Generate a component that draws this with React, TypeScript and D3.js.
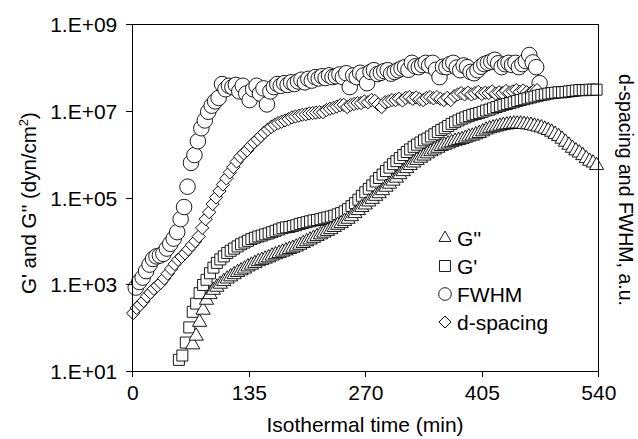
import React, { useEffect, useRef } from "react";
import * as d3 from "d3";

// [time (min), log10 of value]
const gDoublePrime = [
  [70, 1.6], [74, 1.8], [78, 2.12], [82, 2.4], [86, 2.63], [90, 2.76], [94, 2.86], [98, 2.93],
  [102, 3.0], [106, 3.06], [110, 3.12], [114, 3.17], [118, 3.22], [122, 3.27], [126, 3.31], [130, 3.35],
  [134, 3.4], [138, 3.44], [142, 3.48], [146, 3.52], [150, 3.55], [154, 3.58], [158, 3.61], [162, 3.65],
  [166, 3.68], [170, 3.71], [174, 3.74], [178, 3.77], [182, 3.8], [186, 3.83], [190, 3.86], [194, 3.9],
  [198, 3.94], [202, 3.98], [206, 4.02], [210, 4.06], [214, 4.1], [218, 4.14], [222, 4.18], [226, 4.22],
  [230, 4.26], [234, 4.31], [238, 4.36], [242, 4.4], [246, 4.45], [250, 4.5], [254, 4.56], [258, 4.63],
  [262, 4.7], [266, 4.77], [270, 4.83], [274, 4.9], [278, 4.96], [282, 5.03], [286, 5.09], [290, 5.16],
  [294, 5.24], [298, 5.31], [302, 5.38], [306, 5.45], [310, 5.53], [314, 5.6], [318, 5.67], [322, 5.74],
  [326, 5.8], [330, 5.86], [334, 5.91], [338, 5.96], [342, 6.01], [346, 6.06], [350, 6.1], [354, 6.14],
  [358, 6.18], [362, 6.21], [366, 6.24], [370, 6.27], [374, 6.3], [378, 6.32], [382, 6.34], [386, 6.37],
  [390, 6.4], [394, 6.42], [398, 6.45], [402, 6.48], [406, 6.52], [410, 6.56], [414, 6.59], [418, 6.61],
  [422, 6.63], [426, 6.65], [430, 6.67], [434, 6.68], [438, 6.69], [442, 6.7], [446, 6.7], [450, 6.7],
  [454, 6.69], [458, 6.68], [462, 6.67], [466, 6.65], [470, 6.63], [474, 6.61], [478, 6.58], [482, 6.55],
  [486, 6.51], [490, 6.46], [494, 6.41], [498, 6.35], [502, 6.28], [506, 6.21], [510, 6.14], [514, 6.08],
  [518, 6.03], [522, 5.97], [526, 5.9], [530, 5.84], [534, 5.8], [538, 5.74],
];

const gPrime = [
  [54, 1.25], [58, 1.35], [62, 1.65], [66, 2.0], [70, 2.36], [74, 2.55], [78, 2.79], [82, 2.98],
  [86, 3.1], [90, 3.25], [94, 3.38], [98, 3.49], [102, 3.57], [106, 3.64], [110, 3.72], [114, 3.77],
  [118, 3.82], [122, 3.87], [126, 3.92], [130, 3.96], [134, 4.0], [138, 4.04], [142, 4.07], [146, 4.1],
  [150, 4.12], [154, 4.15], [158, 4.17], [162, 4.2], [166, 4.23], [170, 4.26], [174, 4.29], [178, 4.31],
  [182, 4.32], [186, 4.34], [190, 4.36], [194, 4.39], [198, 4.41], [202, 4.43], [206, 4.45], [210, 4.47],
  [214, 4.48], [218, 4.5], [222, 4.52], [226, 4.54], [230, 4.56], [234, 4.58], [238, 4.61], [242, 4.64],
  [246, 4.68], [250, 4.73], [254, 4.8], [258, 4.87], [262, 4.95], [266, 5.04], [270, 5.12], [274, 5.2],
  [278, 5.28], [282, 5.37], [286, 5.45], [290, 5.53], [294, 5.61], [298, 5.69], [302, 5.77], [306, 5.84],
  [310, 5.91], [314, 5.98], [318, 6.05], [322, 6.11], [326, 6.17], [330, 6.22], [334, 6.27], [338, 6.32],
  [342, 6.36], [346, 6.41], [350, 6.46], [354, 6.51], [358, 6.56], [362, 6.6], [366, 6.65], [370, 6.7],
  [374, 6.74], [378, 6.78], [382, 6.82], [386, 6.85], [390, 6.88], [394, 6.91], [398, 6.93], [402, 6.95],
  [406, 6.98], [410, 7.01], [414, 7.03], [418, 7.06], [422, 7.09], [426, 7.11], [430, 7.14], [434, 7.16],
  [438, 7.18], [442, 7.2], [446, 7.23], [450, 7.25], [454, 7.27], [458, 7.29], [462, 7.31], [466, 7.33],
  [470, 7.35], [474, 7.37], [478, 7.38], [482, 7.4], [486, 7.41], [490, 7.42], [494, 7.43], [498, 7.43],
  [502, 7.44], [506, 7.45], [510, 7.46], [514, 7.47], [518, 7.48], [522, 7.48], [526, 7.48], [530, 7.49],
  [534, 7.49], [538, 7.49],
];

const fwhm = [
  [4, 2.92], [8, 3.05], [12, 3.15], [16, 3.3], [20, 3.45], [24, 3.58], [28, 3.64], [32, 3.66],
  [36, 3.7], [40, 3.82], [44, 3.93], [48, 4.05], [52, 4.2], [56, 4.5], [60, 4.78], [64, 5.25],
  [68, 5.8], [72, 5.98], [76, 6.3], [80, 6.6], [84, 6.78], [88, 6.98], [92, 7.12], [96, 7.22],
  [100, 7.3], [104, 7.62], [108, 7.5], [112, 7.58], [116, 7.55], [120, 7.6], [124, 7.45], [128, 7.58],
  [132, 7.4], [136, 7.25], [140, 7.5], [144, 7.58], [148, 7.4], [152, 7.52], [156, 7.15], [160, 7.45],
  [164, 7.55], [168, 7.62], [172, 7.58], [176, 7.64], [180, 7.6], [184, 7.66], [188, 7.62], [192, 7.68],
  [196, 7.72], [200, 7.66], [204, 7.74], [208, 7.7], [212, 7.78], [216, 7.75], [220, 7.8], [224, 7.76],
  [228, 7.82], [232, 7.78], [236, 7.8], [240, 7.84], [244, 7.78], [248, 7.87], [252, 7.55], [256, 7.82],
  [260, 7.78], [264, 7.88], [268, 7.82], [272, 7.64], [276, 7.9], [280, 7.94], [284, 7.85], [288, 7.88],
  [292, 7.92], [296, 7.94], [300, 7.86], [304, 7.9], [308, 7.94], [312, 7.98], [316, 8.01], [320, 7.95],
  [324, 8.11], [328, 8.03], [332, 8.01], [336, 8.06], [340, 8.11], [344, 8.05], [348, 8.11], [352, 7.95],
  [356, 7.78], [360, 8.02], [364, 8.01], [368, 8.08], [372, 8.11], [376, 8.0], [380, 7.94], [384, 8.05],
  [388, 8.01], [392, 7.9], [396, 7.87], [400, 7.94], [404, 8.02], [408, 8.08], [412, 8.11], [416, 8.14],
  [420, 8.18], [424, 8.1], [428, 8.01], [432, 8.08], [436, 8.11], [440, 8.06], [444, 8.11], [448, 8.01],
  [452, 8.08], [456, 8.15], [460, 8.29], [464, 8.12], [468, 8.01], [472, 7.64],
];

const dSpacing = [
  [1, 2.33], [5, 2.45], [9, 2.52], [13, 2.61], [17, 2.72], [21, 2.8], [25, 2.89], [29, 2.96],
  [33, 3.03], [37, 3.13], [41, 3.24], [45, 3.35], [49, 3.46], [53, 3.56], [57, 3.63], [61, 3.71],
  [65, 3.8], [69, 3.9], [73, 3.99], [77, 4.1], [81, 4.3], [85, 4.5], [89, 4.66], [93, 4.85],
  [97, 5.0], [101, 5.15], [105, 5.3], [109, 5.44], [113, 5.58], [117, 5.7], [121, 5.83], [125, 5.94],
  [129, 6.02], [133, 6.09], [137, 6.19], [141, 6.27], [145, 6.34], [149, 6.42], [153, 6.5], [157, 6.57],
  [161, 6.63], [165, 6.68], [169, 6.72], [173, 6.75], [177, 6.78], [181, 6.81], [185, 6.85], [189, 6.87],
  [193, 6.89], [197, 6.91], [201, 6.92], [205, 6.94], [209, 6.95], [213, 6.96], [217, 6.97], [221, 6.97],
  [225, 7.02], [229, 7.05], [233, 7.07], [237, 7.1], [241, 7.13], [245, 7.14], [249, 7.09], [253, 7.14],
  [257, 7.16], [261, 7.18], [265, 7.18], [269, 7.22], [273, 7.2], [277, 7.25], [281, 7.23], [285, 7.15],
  [289, 7.09], [293, 7.2], [297, 7.22], [301, 7.25], [305, 7.25], [309, 7.28], [313, 7.24], [317, 7.3],
  [321, 7.32], [325, 7.28], [329, 7.31], [333, 7.27], [337, 7.25], [341, 7.3], [345, 7.32], [349, 7.29],
  [353, 7.32], [357, 7.28], [361, 7.25], [365, 7.3], [369, 7.25], [373, 7.34], [377, 7.38], [381, 7.41],
  [385, 7.38], [389, 7.42], [393, 7.38], [397, 7.41], [401, 7.44], [405, 7.39], [409, 7.42], [413, 7.41],
  [417, 7.45], [421, 7.4], [425, 7.43], [429, 7.41], [433, 7.46], [437, 7.42], [441, 7.45], [445, 7.48],
  [449, 7.44], [453, 7.47], [457, 7.43], [461, 7.41], [465, 7.46], [469, 7.48],
];

const xTicks = [0, 135, 270, 405, 540];
const yTicks = [1e1, 1e3, 1e5, 1e7, 1e9];
const legendLabels = ["G''", "G'", "FWHM", "d-spacing"];

const FONT = "'Liberation Sans', Arial, sans-serif";

const App = () => {
  const svgRef = useRef(null);

  useEffect(() => {
    const svg = d3.select(svgRef.current);
    svg.selectAll("*").remove();

    const x = d3.scaleLinear().domain([0, 540]).range([132.3, 598.3]);
    const y = d3.scaleLog().domain([1e1, 1e9]).range([370.7, 24.3]);

    const sym = {
      tri: d3.symbol().type(d3.symbolTriangle).size(88)(),
      sq: d3.symbol().type(d3.symbolSquare).size(121)(),
      circ: d3.symbol().type(d3.symbolCircle).size(190)(),
      dia: d3.symbol().type(d3.symbolSquare).size(88)(),
    };

    const plot = svg.append("g");

    const drawSeries = (data, path, rotate = 0) => {
      plot
        .append("g")
        .selectAll("path")
        .data(data)
        .join("path")
        .attr("d", path)
        .attr("transform", (d) => `translate(${x(d[0])},${y(Math.pow(10, d[1]))}) rotate(${rotate})`)
        .attr("fill", "white")
        .attr("stroke", "black")
        .attr("stroke-width", 0.9);
    };

    drawSeries(fwhm, sym.circ);
    drawSeries(dSpacing, sym.dia, 45);
    drawSeries(gPrime, sym.sq);
    drawSeries(gDoublePrime, sym.tri);

    // frame: top and right lines
    svg
      .append("path")
      .attr("d", `M${x(0)},${y(1e9)}H${x(540)}V${y(1e1)}`)
      .attr("fill", "none")
      .attr("stroke", "black")
      .attr("shape-rendering", "crispEdges");

    const yAxis = d3
      .axisLeft(y)
      .tickValues(yTicks)
      .tickSize(6)
      .tickSizeOuter(0)
      .tickFormat((d) => `1.E+${String(Math.round(Math.log10(d))).padStart(2, "0")}`);
    const xAxis = d3.axisBottom(x).tickValues(xTicks).tickSize(6).tickSizeOuter(0).tickFormat(d3.format("d"));

    const gy = svg.append("g").attr("transform", `translate(${x(0)},0)`).call(yAxis);
    const gx = svg.append("g").attr("transform", `translate(0,${y(1e1)})`).call(xAxis);

    [gx, gy].forEach((g) => {
      g.selectAll("path, line").attr("stroke", "black").attr("shape-rendering", "crispEdges");
      g.selectAll("text").attr("font-family", FONT).attr("font-size", 21).attr("fill", "black");
    });
    gy.selectAll("text").attr("x", -15).attr("dy", "0.36em");
    gx.selectAll("text").attr("y", 13).attr("dy", "0.76em");

    svg
      .append("text")
      .attr("x", 365)
      .attr("y", 432)
      .attr("text-anchor", "middle")
      .attr("font-family", FONT)
      .attr("font-size", 21)
      .text("Isothermal time (min)");

    const yl = svg
      .append("text")
      .attr("transform", "translate(36,203) rotate(-90)")
      .attr("text-anchor", "middle")
      .attr("font-family", FONT)
      .attr("font-size", 20.5);
    yl.append("tspan").text("G' and G'' (dyn/cm");
    yl.append("tspan").attr("font-size", 13).attr("dy", -8).text("2");
    yl.append("tspan").attr("dy", 8).text(")");

    svg
      .append("text")
      .attr("transform", "translate(619,190) rotate(90)")
      .attr("text-anchor", "middle")
      .attr("font-family", FONT)
      .attr("font-size", 19.5)
      .text("d-spacing and FWHM, a.u.");

    // legend
    const legSym = [
      [d3.symbol().type(d3.symbolTriangle).size(62)(), 0],
      [d3.symbol().type(d3.symbolSquare).size(120)(), 0],
      [d3.symbol().type(d3.symbolCircle).size(125)(), 0],
      [d3.symbol().type(d3.symbolSquare).size(72)(), 45],
    ];
    const leg = svg.append("g");
    legendLabels.forEach((label, i) => {
      const ly = 238 + i * 28;
      leg
        .append("path")
        .attr("d", legSym[i][0])
        .attr("transform", `translate(445,${ly}) rotate(${legSym[i][1]})`)
        .attr("fill", "white")
        .attr("stroke", "black")
        .attr("stroke-width", 0.9);
      leg
        .append("text")
        .attr("x", 457)
        .attr("y", ly)
        .attr("dy", "0.36em")
        .attr("font-family", FONT)
        .attr("font-size", 21)
        .text(label);
    });
  }, []);

  return (
    <svg
      ref={svgRef}
      width={638}
      height={439}
      style={{ position: "absolute", left: 0, top: 0, background: "white" }}
    ></svg>
  );
};

export default App;
